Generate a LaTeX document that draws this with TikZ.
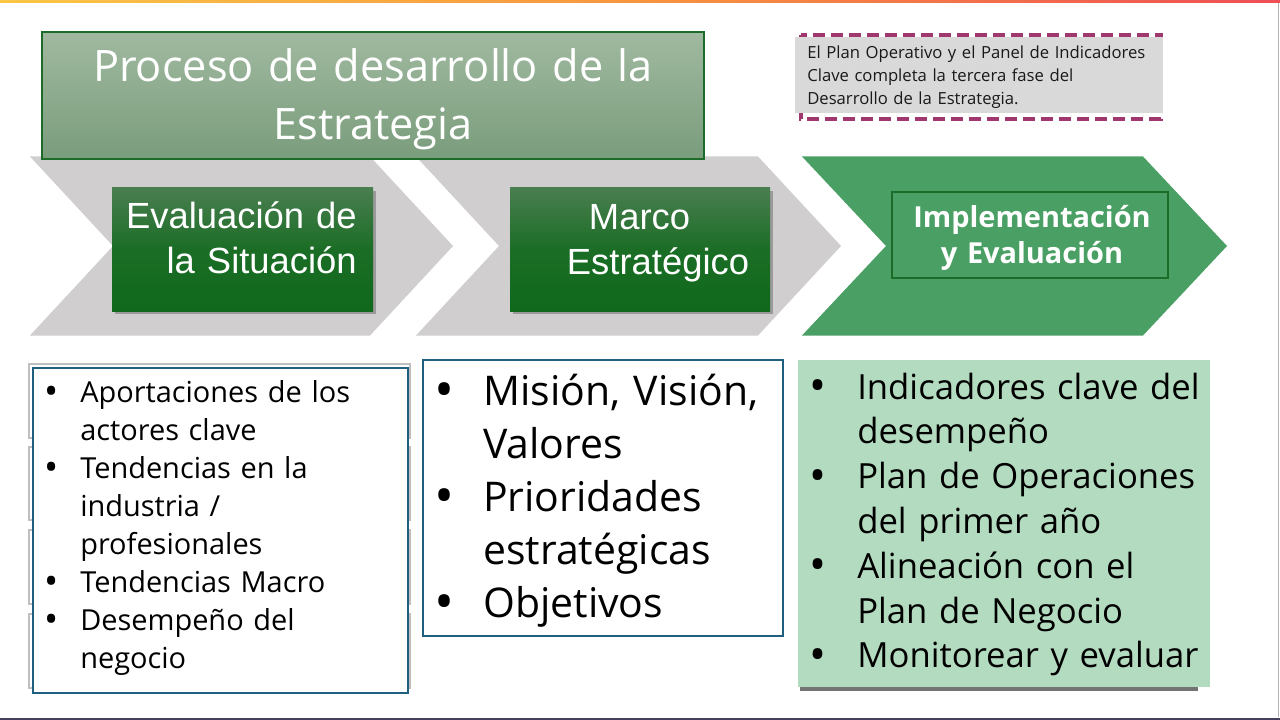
\documentclass[tikz,border=0pt]{standalone}
\usepackage{fontspec}
\setmainfont{Open Sans}
\newfontfamily\arialf{Liberation Sans}
\definecolor{chevgray}{HTML}{D0CECE}
\definecolor{chevgreen}{HTML}{4AA064}
\definecolor{titletop}{HTML}{A0B9A0}
\definecolor{titlebot}{HTML}{7A9D7C}
\definecolor{darkgreen}{HTML}{1D6B28}
\definecolor{gboxtop}{HTML}{4A7E50}
\definecolor{gboxbot}{HTML}{0F691B}
\definecolor{notegray}{HTML}{D9D9D9}
\definecolor{dashcol}{HTML}{A0376F}
\definecolor{boxblue}{HTML}{1F5F80}
\definecolor{lightgreen}{HTML}{B3DBBF}
\definecolor{bartop1}{HTML}{F9C646}
\definecolor{bartop2}{HTML}{F7953F}
\definecolor{bartop3}{HTML}{EF4E55}
\definecolor{slideedge}{HTML}{45405E}
% one bullet item with hanging indent; \nl breaks a line inside the item
\newcommand{\bitem}[2]{\noindent\hangindent=#1\hangafter=1\hbox to #1{\raisebox{-0.08em}{\scalebox{1.3}{\textbullet}}\hss}#2\par}
\newcommand{\nl}{\hfil\break}
\tikzset{
  chev/.style={fill=chevgray, draw=none},
  titlebox/.style={rectangle, inner sep=0, top color=titletop, bottom color=titlebot, draw=darkgreen, line width=1pt},
  gbox/.style={rectangle, inner sep=0, minimum width=261*0.75pt, minimum height=123*0.75pt, top color=gboxtop, bottom color=gboxbot, middle color=gboxbot!80!gboxtop},
  gshadow/.style={fill=black, opacity=0.25},
  labeltxt/.style={inner sep=0, text=white, font=\arialf\fontsize{27.3}{33.75}\selectfont},
  listbox/.style={rectangle, draw=boxblue, line width=1.5pt, fill=white, inner sep=0},
  backbox/.style={rectangle, draw=black!25, line width=0.8pt, fill=white},
  listtxt/.style={inner sep=0, anchor=base west, text=black},
}
\begin{document}
\begin{tikzpicture}[x=0.75pt,y=-0.75pt]
\useasboundingbox (0,0) rectangle (1280,720);
\fill[white] (0,0) rectangle (1280,720);
% slide frame
\shade[left color=bartop1, right color=bartop3, middle color=bartop2] (0,0) rectangle (1280,3);
\draw[black!30, line width=1.1pt] (1278.5,3) -- (1278.5,717);
\fill[slideedge] (0,717.5) rectangle (1280,720);
% chevrons
\fill[chev] (30,156.5) -- (370,156.5) -- (453,246) -- (370,335.5) -- (30,335.5) -- (113,246) -- cycle;
\fill[chev] (416,156.5) -- (758,156.5) -- (841,246) -- (758,335.5) -- (416,335.5) -- (499,246) -- cycle;
\fill[chevgreen] (802,156.5) -- (1143,156.5) -- (1227,246) -- (1143,335.5) -- (802,335.5) -- (886,246) -- cycle;
% title
\node[titlebox, minimum width=662*0.75pt, minimum height=127*0.75pt] (title) at (373,95.5) {};
\node[inner sep=0, text=white, text width=640*0.75pt, align=center, anchor=base,
      font=\fontsize{32.5}{43.2}\selectfont] (titletxt) at (373,81.7)
  {Proceso de desarrollo de la\\Estrategia};
% note
\draw[dashcol, line width=2.6pt, dash pattern=on 9pt off 4.5pt] (801,35) rectangle (1161,119);
\node[rectangle, fill=notegray, inner sep=0, minimum width=368*0.75pt, minimum height=76*0.75pt] (note) at (979,75) {};
\node[listtxt, text width=360*0.75pt, text=black!90, font=\fontsize{12.5}{17.25}\selectfont] (notetxt) at (807,59)
  {El Plan Operativo y el Panel de Indicadores\\Clave completa la tercera fase del\\Desarrollo de la Estrategia.};
% green label boxes
\fill[gshadow] (114.5,191) rectangle (375.5,314);
\node[gbox] (eval) at (242.5,249.5) {};
\node[labeltxt, text width=250*0.75pt, align=right, anchor=base east] (evaltxt) at (357,228.3)
  {Evaluación de\\la Situación};
\fill[gshadow] (512.5,191) rectangle (772.5,314);
\node[gbox, minimum width=260*0.75pt] (marco) at (640,249.5) {};
\node[labeltxt, text width=250*0.75pt, align=center, anchor=base] (marcotxt) at (658,229.3)
  {Marco\kern 27.75pt\\Estratégico};
\node[rectangle, draw=darkgreen, line width=1.5pt, inner sep=0, minimum width=276*0.75pt, minimum height=86*0.75pt] (impl) at (1030,235) {};
\node[inner sep=0, text=white, text width=270*0.75pt, align=center, anchor=base,
      font=\bfseries\fontsize{21.7}{27.5}\selectfont] (impltxt) at (1032,227.3)
  {Implementación\\y Evaluación};
% left list
\node[backbox, minimum width=381*0.75pt, minimum height=74*0.75pt] (bk1) at (219.5,401) {};
\node[backbox, minimum width=381*0.75pt, minimum height=73*0.75pt] (bk2) at (219.5,483.5) {};
\node[backbox, minimum width=381*0.75pt, minimum height=74*0.75pt] (bk3) at (219.5,567) {};
\node[backbox, minimum width=381*0.75pt, minimum height=74*0.75pt] (bk4) at (219.5,651) {};
\node[listbox, minimum width=375*0.75pt, minimum height=325*0.75pt] (situacion) at (220.5,530.5) {};
\node[listtxt, text width=360*0.75pt, font=\fontsize{21.7}{28.5}\selectfont] (sittxt) at (44,402)
  {\bitem{27pt}{Aportaciones de los\nl actores clave}%
   \bitem{27pt}{Tendencias en la\nl industria /\nl profesionales}%
   \bitem{27pt}{Tendencias Macro}%
   \bitem{27pt}{Desempeño del\nl negocio}};
% middle list
\node[listbox, minimum width=360*0.75pt, minimum height=276*0.75pt] (marcolist) at (603,498) {};
\node[listtxt, text width=350*0.75pt, font=\fontsize{30.7}{39.75}\selectfont] (marcolisttxt) at (434,405)
  {\bitem{36.75pt}{Misión, Visión,\nl Valores}%
   \bitem{36.75pt}{Prioridades\nl estratégicas}%
   \bitem{36.75pt}{Objetivos}};
% right list
\fill[black!55] (800,363) rectangle (1198,690.5);
\node[rectangle, fill=lightgreen, inner sep=0, minimum width=412*0.75pt, minimum height=327*0.75pt] (impllist) at (1004,523.5) {};
\node[listtxt, text width=400*0.75pt, font=\fontsize{26}{33.6}\selectfont] (impllisttxt) at (809,399)
  {\bitem{36pt}{Indicadores clave del\nl desempeño}%
   \bitem{36pt}{Plan de Operaciones\nl del primer año}%
   \bitem{36pt}{Alineación con el\nl Plan de Negocio}%
   \bitem{36pt}{Monitorear y evaluar}};
\end{tikzpicture}
\end{document}
